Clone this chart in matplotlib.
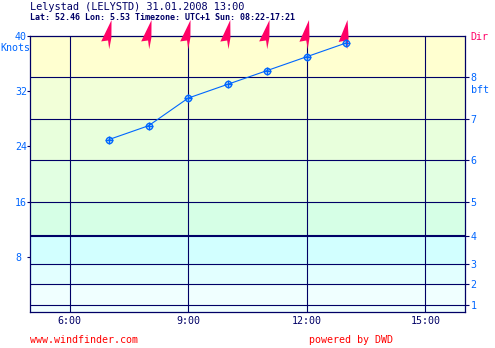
import matplotlib
matplotlib.use("Agg")
import matplotlib.pyplot as plt
from matplotlib.path import Path
from matplotlib.markers import MarkerStyle
from matplotlib.transforms import Affine2D

# forecast data
hours = [7, 8, 9, 10, 11, 12, 13]
knots = [25, 27, 31, 33, 35, 37, 39]
wind_dir = [188, 188, 188, 187, 188, 186, 184]   # wind from, degrees

# beaufort boundaries in knots and band colours
bft_knots = [1, 4, 7, 11, 16, 22, 28, 34]
bft_labels = ["1", "2", "3", "4", "5", "6", "7", "8"]
band_edges = [0, 1, 4, 7, 11, 16, 22, 28, 34, 40]
band_colors = ["#f0ffff", "#f0ffff", "#e2ffff", "#d2ffff", "#d6ffe6",
               "#e2ffe2", "#e8ffdc", "#f2ffd8", "#ffffd0"]
knot_ticks = [8, 16, 24, 32, 40]
hour_ticks = [6, 9, 12, 15]
hour_labels = ["6:00", "9:00", "12:00", "15:00"]

navy = "#000066"
blue = "#0066ff"
pink = "#ff0066"
mono = "DejaVu Sans Mono"

W, H = 495, 348
fig = plt.figure(figsize=(W / 100, H / 100), dpi=100)
fig.patch.set_facecolor("white")
ax = fig.add_axes([30 / W, 1 - 312 / H, 435 / W, 276 / H])
ax.set_xlim(5, 16)
ax.set_ylim(0, 40)

for i in range(len(band_colors)):
    ax.axhspan(band_edges[i], band_edges[i + 1], color=band_colors[i], lw=0, zorder=0)
for k in bft_knots:
    ax.axhline(k, color=navy, lw=1.5 if k == 11 else 0.8, zorder=1)
for h in hour_ticks:
    ax.axvline(h, color=navy, lw=0.8, zorder=1)

for s in ax.spines.values():
    s.set_color(navy)
    s.set_linewidth(0.9)

# wind direction arrows along the top
shape = Path([(0, 1), (0.16, -0.2), (0.12, -1), (-0.04, -0.42), (-0.5, -0.55), (0, 1)],
             [Path.MOVETO, Path.LINETO, Path.LINETO, Path.LINETO, Path.LINETO, Path.CLOSEPOLY])
for h, d in zip(hours, wind_dir):
    m = MarkerStyle(shape, transform=Affine2D().rotate_deg(-(d - 180)))
    ax.scatter([h], [40.3], marker=m, s=21 ** 2, color=pink, lw=0, clip_on=False, zorder=4)

# wind speed line
ax.plot(hours, knots, color=blue, lw=0.8, zorder=5, clip_on=False)
ax.plot(hours, knots, ls="none", marker="o", ms=4.5, mfc="none", mec=blue, mew=1, zorder=6, clip_on=False)
ax.plot(hours, knots, ls="none", marker="+", ms=5.5, mec=blue, mew=1, zorder=6, clip_on=False)

ax.set_xticks(hour_ticks)
ax.set_xticklabels(hour_labels, fontfamily=mono, fontsize=7.2, color=navy)
ax.tick_params(axis="x", length=0, pad=3)

ax.set_yticks(knot_ticks)
ax.set_yticklabels([str(k) for k in knot_ticks], fontfamily=mono, fontsize=7.2, color=blue)
ax.tick_params(axis="y", length=2.2, width=0.8, color=navy, pad=8.6)
plt.setp(ax.get_yticklabels(), ha="left")

ax2 = ax.twinx()
ax2.set_ylim(0, 40)
ax2.set_yticks(bft_knots)
ax2.set_yticklabels(bft_labels, fontfamily=mono, fontsize=7.2, color=blue)
ax2.tick_params(axis="y", length=3, width=0.8, color=navy, pad=1)
for s in ax2.spines.values():
    s.set_visible(False)

# texts
fig.text(30 / W, 1 - 7 / H, "Lelystad (LELYSTD) 31.01.2008 13:00", fontfamily=mono,
         fontsize=7.4, color=navy, va="center")
fig.text(30 / W, 1 - 17 / H, "Lat: 52.46 Lon: 5.53 Timezone: UTC+1 Sun: 08:22-17:21",
         fontfamily=mono, fontsize=6, fontweight="bold", color=navy, va="center")
fig.text(0 / W, 1 - 48 / H, "Knots", fontfamily=mono, fontsize=7.2, color=blue, va="center")
fig.text(471 / W, 1 - 90 / H, "bft", fontfamily=mono, fontsize=7.2, color=blue, va="center")
fig.text(470 / W, 1 - 37 / H, "Dir", fontfamily=mono, fontsize=7.2, color=pink, va="center")
fig.text(30 / W, 1 - 340 / H, "www.windfinder.com", fontfamily=mono, fontsize=7.2,
         color="#ff0000", va="center")
fig.text(309 / W, 1 - 340 / H, "powered by DWD", fontfamily=mono, fontsize=7.2,
         color="#ff0000", va="center")

fig.savefig("out.png", dpi=100)
